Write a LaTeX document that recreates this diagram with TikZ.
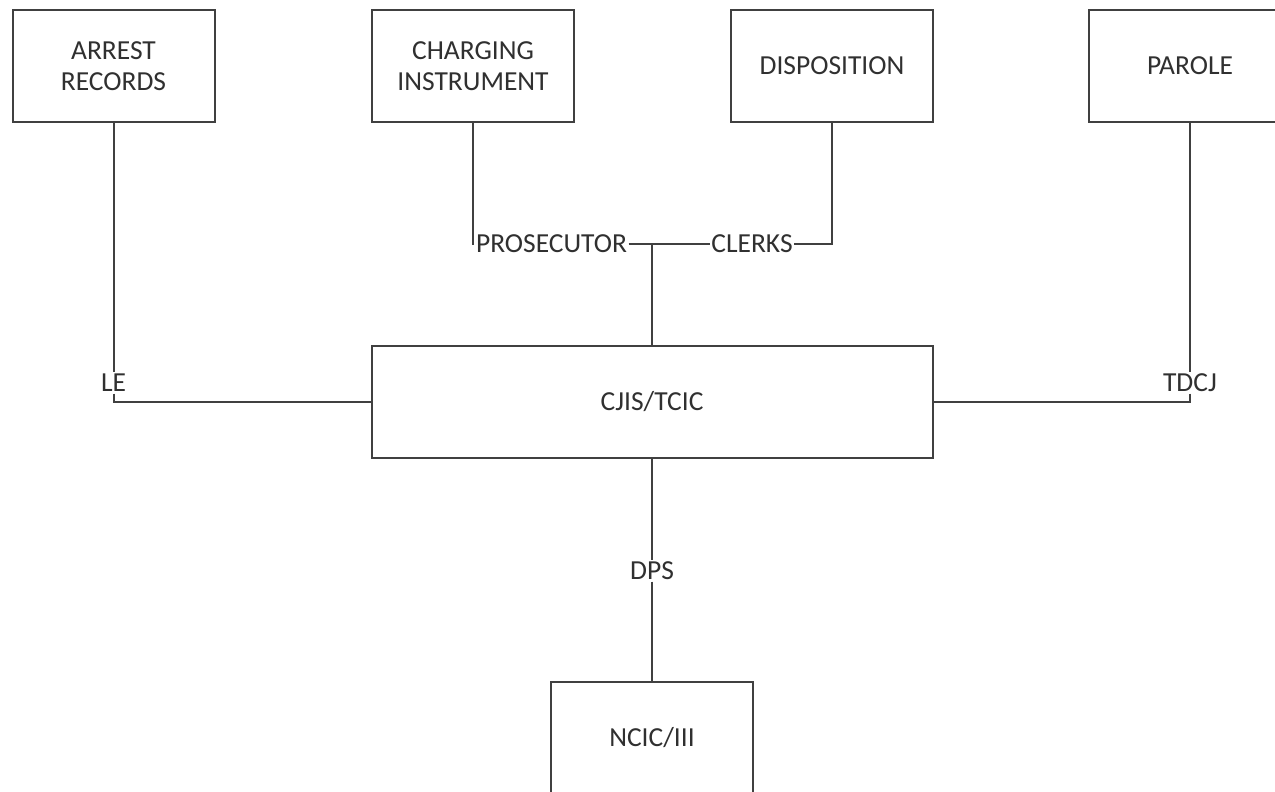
\documentclass[tikz,border=0pt]{standalone}
\usepackage{fontspec}
\setmainfont{Carlito}
\definecolor{linegray}{HTML}{404040}
\definecolor{textgray}{HTML}{303030}
\begin{document}
\begin{tikzpicture}[x=1pt,y=-1pt,
  every node/.style={font=\fontsize{27.5}{31}\selectfont, text=textgray},
  boxnode/.style={draw=linegray, line width=2pt, fill=white, inner sep=0pt,
    minimum width=202pt, minimum height=112pt, align=center},
  lbl/.style={fill=white, inner sep=1.5pt},
  conn/.style={draw=linegray, line width=2pt}]
\useasboundingbox (0,0) rectangle (1275,792);
\fill[white] (0,0) rectangle (1275,792);

\node[boxnode] (arrest) at (113.5,66) {ARREST\\RECORDS};
\node[boxnode] (charging) at (473,66) {CHARGING\\INSTRUMENT};
\node[boxnode] (disp) at (832,66) {DISPOSITION};
\node[boxnode] (parole) at (1190,66) {PAROLE};
\node[boxnode, minimum width=561pt] (cjis) at (652,402) {CJIS/TCIC};
\node[boxnode] (ncic) at (652,738) {NCIC/III};

\node[lbl] (le) at (113.5,383) {LE};
\node[lbl] (tdcj) at (1190,383) {TDCJ};
\node[lbl] (pros) at (551.5,244) {PROSECUTOR};
\node[lbl] (clerks) at (752,244) {CLERKS};
\node[lbl] (dps) at (652,571) {DPS};

\coordinate (lecorner) at (113.5,402);
\coordinate (tdcjcorner) at (1190,402);
\coordinate (chcorner) at (473,244);
\coordinate (junction) at (652,244);
\coordinate (dcorner) at (832,244);

\draw[conn] (arrest.south) -- (le.north);
\draw[conn] (le.south) -- (lecorner) -- (cjis.west);
\draw[conn] (parole.south) -- (tdcj.north);
\draw[conn] (tdcj.south) -- (tdcjcorner) -- (cjis.east);
\draw[conn] (charging.south) -- (chcorner) -- (pros.west);
\draw[conn] (pros.east) -- (junction) -- (clerks.west);
\draw[conn] (clerks.east) -- (dcorner) -- (disp.south);
\draw[conn] (junction) -- (cjis.north);
\draw[conn] (cjis.south) -- (dps.north);
\draw[conn] (dps.south) -- (ncic.north);
\end{tikzpicture}
\end{document}
